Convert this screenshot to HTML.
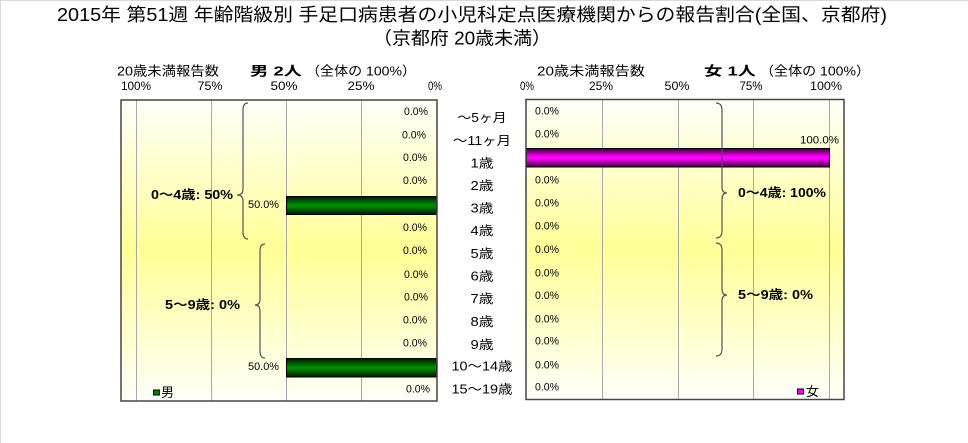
<!DOCTYPE html>
<html>
<head>
<meta charset="utf-8">
<style>
  html, body { margin: 0; padding: 0; background: #ffffff; }
  body { width: 968px; height: 443px; overflow: hidden; }
  svg { display: block; }
  text { font-family: "Liberation Sans", "Noto Sans CJK JP", sans-serif; fill: #000; }
</style>
</head>
<body>
<svg width="968" height="443" viewBox="0 0 968 443" xmlns="http://www.w3.org/2000/svg">
  <defs>
    <linearGradient id="bg" x1="0" y1="0" x2="0" y2="1">
      <stop offset="0" stop-color="#fffffa"/>
      <stop offset="0.5" stop-color="#ffff96"/>
      <stop offset="1" stop-color="#fffffa"/>
    </linearGradient>
    <linearGradient id="gbar" x1="0" y1="0" x2="0" y2="1">
      <stop offset="0" stop-color="#001600"/>
      <stop offset="0.45" stop-color="#008a00"/>
      <stop offset="0.55" stop-color="#008a00"/>
      <stop offset="1" stop-color="#001600"/>
    </linearGradient>
    <linearGradient id="mbar" x1="0" y1="0" x2="0" y2="1">
      <stop offset="0" stop-color="#3a003a"/>
      <stop offset="0.45" stop-color="#ff00ff"/>
      <stop offset="0.55" stop-color="#ff00ff"/>
      <stop offset="1" stop-color="#3a003a"/>
    </linearGradient>
  </defs>

  <!-- page border (top/left) -->
  <line x1="0" y1="0.5" x2="968" y2="0.5" stroke="#d9d9d9" stroke-width="1"/>
  <line x1="0.5" y1="0" x2="0.5" y2="443" stroke="#d9d9d9" stroke-width="1"/>

  <!-- Title -->
  <text x="57" y="15" font-size="18" dominant-baseline="central" textLength="830" lengthAdjust="spacingAndGlyphs">2015年 第51週 年齢階級別 手足口病患者の小児科定点医療機関からの報告割合(全国、京都府)</text>
  <text x="373" y="38.5" font-size="18" dominant-baseline="central" textLength="178" lengthAdjust="spacingAndGlyphs">（京都府 20歳未満）</text>

  <!-- Headers -->
  <text x="117" y="71" font-size="13" dominant-baseline="central" textLength="102" lengthAdjust="spacingAndGlyphs">20歳未満報告数</text>
  <text x="250" y="71" font-size="13" font-weight="bold" dominant-baseline="central" textLength="52" lengthAdjust="spacingAndGlyphs">男 2人</text>
  <text x="306" y="71" font-size="13" dominant-baseline="central" textLength="110" lengthAdjust="spacingAndGlyphs">（全体の 100%）</text>

  <text x="537" y="71" font-size="13" dominant-baseline="central" textLength="108" lengthAdjust="spacingAndGlyphs">20歳未満報告数</text>
  <text x="704" y="71" font-size="13" font-weight="bold" dominant-baseline="central" textLength="52" lengthAdjust="spacingAndGlyphs">女 1人</text>
  <text x="760" y="71" font-size="13" dominant-baseline="central" textLength="110" lengthAdjust="spacingAndGlyphs">（全体の 100%）</text>

  <!-- Tick labels -->
  <g font-size="11.5" text-anchor="middle" dominant-baseline="central">
    <text x="136" y="87" textLength="30" lengthAdjust="spacingAndGlyphs">100%</text>
    <text x="210" y="87" textLength="25" lengthAdjust="spacingAndGlyphs">75%</text>
    <text x="284" y="87" textLength="27" lengthAdjust="spacingAndGlyphs">50%</text>
    <text x="361" y="87" textLength="27" lengthAdjust="spacingAndGlyphs">25%</text>
    <text x="435" y="87" textLength="14" lengthAdjust="spacingAndGlyphs">0%</text>

    <text x="527" y="87" textLength="14" lengthAdjust="spacingAndGlyphs">0%</text>
    <text x="601" y="87" textLength="24" lengthAdjust="spacingAndGlyphs">25%</text>
    <text x="677" y="87" textLength="25" lengthAdjust="spacingAndGlyphs">50%</text>
    <text x="751" y="87" textLength="23" lengthAdjust="spacingAndGlyphs">75%</text>
    <text x="826" y="87" textLength="32" lengthAdjust="spacingAndGlyphs">100%</text>
  </g>

  <!-- Left plot -->
  <rect x="121" y="100" width="316" height="301" fill="url(#bg)"/>
  <g stroke="#a8a8a8" stroke-width="1">
    <line x1="136.5" y1="100" x2="136.5" y2="401"/>
    <line x1="211.5" y1="100" x2="211.5" y2="401"/>
    <line x1="286.5" y1="100" x2="286.5" y2="401"/>
    <line x1="361.5" y1="100" x2="361.5" y2="401"/>
  </g>
  <rect x="286.5" y="196.5" width="150" height="18" fill="url(#gbar)" stroke="#000" stroke-width="1"/>
  <rect x="286.5" y="358.5" width="150" height="18.5" fill="url(#gbar)" stroke="#000" stroke-width="1"/>
  <rect x="121" y="100" width="316" height="301" fill="none" stroke="#454545" stroke-width="1.5"/>

  <!-- Right plot -->
  <rect x="526" y="99.5" width="318" height="300" fill="url(#bg)"/>
  <g stroke="#a8a8a8" stroke-width="1">
    <line x1="602.5" y1="99.5" x2="602.5" y2="399.5"/>
    <line x1="678.5" y1="99.5" x2="678.5" y2="399.5"/>
    <line x1="753.5" y1="99.5" x2="753.5" y2="399.5"/>
    <line x1="829.5" y1="99.5" x2="829.5" y2="399.5"/>
  </g>
  <rect x="526.5" y="148.5" width="303" height="18.5" fill="url(#mbar)" stroke="#000" stroke-width="1"/>
  <rect x="526" y="99.5" width="318" height="300" fill="none" stroke="#454545" stroke-width="1.5"/>

  <!-- Brackets -->
  <g fill="none" stroke="#555" stroke-width="1.2">
    <path d="M248,103 Q243,103 243,110 L243,189 Q243,195 237,195 Q243,195 243,201 L243,232 Q243,239 248,239"/>
    <path d="M265,244 Q260,244 260,251 L260,299 Q260,305 255,305 Q260,305 260,311 L260,351 Q260,358 265,358"/>
    <path d="M716,103 Q722,103 722,110 L722,187 Q722,193 727,193 Q722,193 722,199 L722,231 Q722,238 716,238"/>
    <path d="M716,243 Q722,243 722,250 L722,289 Q722,295 727,295 Q722,295 722,301 L722,349 Q722,356 716,356"/>
  </g>

  <!-- Bracket labels -->
  <g font-size="12.5" font-weight="bold" dominant-baseline="central">
    <text x="151" y="195" textLength="82" lengthAdjust="spacingAndGlyphs">0～4歳: 50%</text>
    <text x="165" y="305" textLength="75" lengthAdjust="spacingAndGlyphs">5～9歳: 0%</text>
    <text x="738" y="193" textLength="88" lengthAdjust="spacingAndGlyphs">0～4歳: 100%</text>
    <text x="738" y="295" textLength="75" lengthAdjust="spacingAndGlyphs">5～9歳: 0%</text>
  </g>

  <!-- Left value labels -->
  <g font-size="11" text-anchor="end" dominant-baseline="central">
    <text x="428" y="112" textLength="24" lengthAdjust="spacingAndGlyphs">0.0%</text>
    <text x="426" y="135.5" textLength="24" lengthAdjust="spacingAndGlyphs">0.0%</text>
    <text x="427" y="158" textLength="24" lengthAdjust="spacingAndGlyphs">0.0%</text>
    <text x="427" y="181" textLength="24" lengthAdjust="spacingAndGlyphs">0.0%</text>
    <text x="279" y="205" textLength="31" lengthAdjust="spacingAndGlyphs">50.0%</text>
    <text x="427" y="228" textLength="24" lengthAdjust="spacingAndGlyphs">0.0%</text>
    <text x="427" y="251" textLength="24" lengthAdjust="spacingAndGlyphs">0.0%</text>
    <text x="428" y="275" textLength="24" lengthAdjust="spacingAndGlyphs">0.0%</text>
    <text x="428" y="297.5" textLength="24" lengthAdjust="spacingAndGlyphs">0.0%</text>
    <text x="427" y="320.5" textLength="24" lengthAdjust="spacingAndGlyphs">0.0%</text>
    <text x="427" y="343.5" textLength="24" lengthAdjust="spacingAndGlyphs">0.0%</text>
    <text x="279" y="367" textLength="31" lengthAdjust="spacingAndGlyphs">50.0%</text>
    <text x="430" y="389.5" textLength="24" lengthAdjust="spacingAndGlyphs">0.0%</text>
  </g>

  <!-- Right value labels -->
  <g font-size="11" dominant-baseline="central">
    <text x="535" y="111.7" textLength="24" lengthAdjust="spacingAndGlyphs">0.0%</text>
    <text x="535" y="134.3" textLength="24" lengthAdjust="spacingAndGlyphs">0.0%</text>
    <text x="800" y="140.7" textLength="39" lengthAdjust="spacingAndGlyphs">100.0%</text>
    <text x="535" y="180.7" textLength="24" lengthAdjust="spacingAndGlyphs">0.0%</text>
    <text x="535" y="203.3" textLength="24" lengthAdjust="spacingAndGlyphs">0.0%</text>
    <text x="535" y="226.7" textLength="24" lengthAdjust="spacingAndGlyphs">0.0%</text>
    <text x="535" y="250" textLength="24" lengthAdjust="spacingAndGlyphs">0.0%</text>
    <text x="535" y="273.3" textLength="24" lengthAdjust="spacingAndGlyphs">0.0%</text>
    <text x="535" y="296" textLength="24" lengthAdjust="spacingAndGlyphs">0.0%</text>
    <text x="535" y="319.3" textLength="24" lengthAdjust="spacingAndGlyphs">0.0%</text>
    <text x="535" y="341.7" textLength="24" lengthAdjust="spacingAndGlyphs">0.0%</text>
    <text x="535" y="365.7" textLength="24" lengthAdjust="spacingAndGlyphs">0.0%</text>
    <text x="535" y="387.7" textLength="24" lengthAdjust="spacingAndGlyphs">0.0%</text>
  </g>

  <!-- Category labels -->
  <g font-size="12.5" text-anchor="middle" dominant-baseline="central">
    <text x="482" y="118" textLength="49" lengthAdjust="spacingAndGlyphs">～5ヶ月</text>
    <text x="482" y="141" textLength="58" lengthAdjust="spacingAndGlyphs">～11ヶ月</text>
    <text x="482" y="163.5" textLength="23" lengthAdjust="spacingAndGlyphs">1歳</text>
    <text x="482" y="186" textLength="23" lengthAdjust="spacingAndGlyphs">2歳</text>
    <text x="482" y="208.5" textLength="23" lengthAdjust="spacingAndGlyphs">3歳</text>
    <text x="482" y="231" textLength="23" lengthAdjust="spacingAndGlyphs">4歳</text>
    <text x="482" y="254" textLength="23" lengthAdjust="spacingAndGlyphs">5歳</text>
    <text x="482" y="276.5" textLength="23" lengthAdjust="spacingAndGlyphs">6歳</text>
    <text x="482" y="299" textLength="23" lengthAdjust="spacingAndGlyphs">7歳</text>
    <text x="482" y="322" textLength="23" lengthAdjust="spacingAndGlyphs">8歳</text>
    <text x="482" y="345" textLength="23" lengthAdjust="spacingAndGlyphs">9歳</text>
    <text x="482" y="366.5" textLength="61" lengthAdjust="spacingAndGlyphs">10～14歳</text>
    <text x="482" y="389.5" textLength="61" lengthAdjust="spacingAndGlyphs">15～19歳</text>
  </g>

  <!-- Legends -->
  <rect x="153.5" y="390" width="6" height="5" fill="#008000" stroke="#000" stroke-width="1"/>
  <text x="161" y="392.7" font-size="13" dominant-baseline="central" textLength="13" lengthAdjust="spacingAndGlyphs">男</text>
  <rect x="797.5" y="389" width="6" height="5" fill="#ff00ff" stroke="#000" stroke-width="1"/>
  <text x="806" y="391.7" font-size="13" dominant-baseline="central" textLength="13" lengthAdjust="spacingAndGlyphs">女</text>
</svg>
</body>
</html>
